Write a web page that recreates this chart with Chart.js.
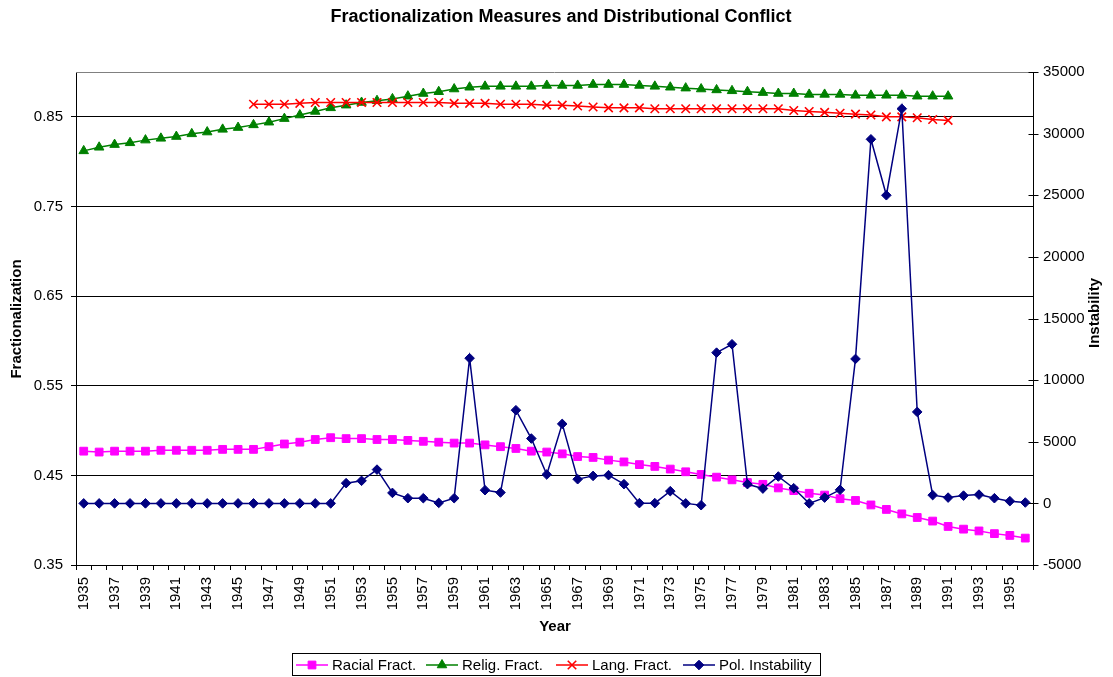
<!DOCTYPE html>
<html>
<head>
<meta charset="utf-8">
<script src="https://cdn.jsdelivr.net/npm/chart.js@4.4.1/dist/chart.umd.min.js"></script>
<style>
  html, body { margin: 0; padding: 0; background: #fff; }
  #c { display: block; }
</style>
</head>
<body>
<canvas id="c" width="1113" height="677"></canvas>
<script>
// ---------------- DATA ----------------
const years = [];
for (let y = 1935; y <= 1996; y++) years.push(String(y));

const racialFract = [
  0.477, 0.476, 0.477, 0.477, 0.477, 0.478, 0.478, 0.478, 0.478, 0.479, // 1935-1944
  0.479, 0.479, 0.482, 0.485, 0.487, 0.490, 0.492, 0.491, 0.491, 0.490, // 1945-1954
  0.490, 0.489, 0.488, 0.487, 0.486, 0.486, 0.484, 0.482, 0.480, 0.477, // 1955-1964
  0.476, 0.474, 0.471, 0.470, 0.467, 0.465, 0.462, 0.460, 0.457, 0.454, // 1965-1974
  0.451, 0.448, 0.445, 0.442, 0.440, 0.436, 0.433, 0.430, 0.428, 0.424, // 1975-1984
  0.422, 0.417, 0.412, 0.407, 0.403, 0.399, 0.393, 0.390, 0.388, 0.385, // 1985-1994
  0.383, 0.380                                                          // 1995-1996
];

const religFract = [
  0.812, 0.816, 0.819, 0.821, 0.824, 0.826, 0.828, 0.831, 0.833, 0.836, // 1935-1944
  0.838, 0.841, 0.844, 0.848, 0.852, 0.856, 0.860, 0.863, 0.866, 0.868, // 1945-1954
  0.870, 0.873, 0.876, 0.878, 0.881, 0.883, 0.884, 0.884, 0.884, 0.884, // 1955-1964
  0.885, 0.885, 0.885, 0.886, 0.886, 0.886, 0.885, 0.884, 0.883, 0.882, // 1965-1974
  0.881, 0.880, 0.879, 0.878, 0.877, 0.876, 0.876, 0.875, 0.875, 0.875, // 1975-1984
  0.874, 0.874, 0.874, 0.874, 0.873, 0.873, 0.873, null, null, null,    // 1985-1994
  null, null                                                            // 1995-1996
];

const langFract = [
  null, null, null, null, null, null, null, null, null, null,           // 1935-1944
  null, 0.864, 0.864, 0.864, 0.865, 0.866, 0.866, 0.866, 0.866, 0.866,  // 1945-1954
  0.866, 0.866, 0.866, 0.866, 0.865, 0.865, 0.865, 0.864, 0.864, 0.864, // 1955-1964
  0.863, 0.863, 0.862, 0.861, 0.860, 0.860, 0.860, 0.859, 0.859, 0.859, // 1965-1974
  0.859, 0.859, 0.859, 0.859, 0.859, 0.859, 0.857, 0.856, 0.855, 0.854, // 1975-1984
  0.853, 0.852, 0.850, 0.850, 0.849, 0.847, 0.846, null, null, null,    // 1985-1994
  null, null                                                            // 1995-1996
];

const polInstability = [
  0, 0, 0, 0, 0, 0, 0, 0, 0, 0,                                         // 1935-1944
  0, 0, 0, 0, 0, 0, 0, 1640, 1830, 2740,                                // 1945-1954
  850, 420, 420, 40, 420, 11780, 1070, 880, 7560, 5260,                 // 1955-1964
  2340, 6450, 1960, 2230, 2290, 1560, 20, 20, 990, 0,                   // 1965-1974
  -150, 12230, 12910, 1560, 1200, 2180, 1230, 0, 470, 1100,             // 1975-1984
  11720, 29540, 25000, 32020, 7420, 670, 470, 630, 710, 420,            // 1985-1994
  180, 70                                                               // 1995-1996
];

const leftTicks = [0.35, 0.45, 0.55, 0.65, 0.75, 0.85];
const rightTicks = [-5000, 0, 5000, 10000, 15000, 20000, 25000, 30000, 35000];

const seriesNames = ['Racial Fract.', 'Relig. Fract.', 'Lang. Fract.', 'Pol. Instability'];
const chartTitle = 'Fractionalization Measures and Distributional Conflict';
const xTitle = 'Year';
const yLeftTitle = 'Fractionalization';
const yRightTitle = 'Instability';

// ---------------- STYLE ----------------
const FONT = '"Liberation Sans", Arial, Helvetica, sans-serif';
const styles = [
  { color: '#FF00FF', point: 'rect',     radius: 5.5, border: 1 },
  { color: '#008000', point: 'triangle', radius: 5.5, border: 1 },
  { color: '#FF0000', point: 'crossRot', radius: 6,   border: 1.6 },
  { color: '#000080', point: 'rectRot',  radius: 4.8, border: 1 }
];

function ds(i, data, axis, order) {
  const s = styles[i];
  return {
    label: seriesNames[i],
    data: data,
    yAxisID: axis,
    order: order,
    borderColor: s.color,
    backgroundColor: s.color,
    borderWidth: 1.5,
    pointStyle: s.point,
    pointRadius: s.radius,
    pointBorderWidth: s.border,
    pointBackgroundColor: s.color,
    pointBorderColor: s.color,
    tension: 0,
    spanGaps: false,
    fill: false
  };
}

function drawMarker(ctx, type, x, y, r, color, bw) {
  ctx.save();
  ctx.fillStyle = color; ctx.strokeStyle = color; ctx.lineWidth = bw;
  ctx.beginPath();
  if (type === 'rect') {
    const h = r * Math.SQRT1_2;
    ctx.rect(x - h, y - h, 2 * h, 2 * h);
    ctx.fill(); ctx.stroke();
  } else if (type === 'triangle') {
    const side = 3 * r / Math.sqrt(3);
    const height = side * Math.sqrt(3) / 2;
    ctx.moveTo(x - side / 2, y + height / 3);
    ctx.lineTo(x + side / 2, y + height / 3);
    ctx.lineTo(x, y - 2 * height / 3);
    ctx.closePath();
    ctx.fill(); ctx.stroke();
  } else if (type === 'crossRot') {
    const o = r * Math.SQRT1_2;
    ctx.moveTo(x - o, y - o); ctx.lineTo(x + o, y + o);
    ctx.moveTo(x - o, y + o); ctx.lineTo(x + o, y - o);
    ctx.stroke();
  } else if (type === 'rectRot') {
    ctx.moveTo(x - r, y); ctx.lineTo(x, y - r); ctx.lineTo(x + r, y); ctx.lineTo(x, y + r);
    ctx.closePath();
    ctx.fill(); ctx.stroke();
  }
  ctx.restore();
}

const decorPlugin = {
  id: 'decor',
  beforeDatasetsDraw(chart) {
    const { ctx, chartArea: a } = chart;
    ctx.save();
    ctx.strokeStyle = '#808080';
    ctx.lineWidth = 1;
    ctx.beginPath();
    ctx.moveTo(a.left, Math.round(a.top) + 0.5);
    ctx.lineTo(a.right, Math.round(a.top) + 0.5);
    ctx.stroke();
    ctx.restore();
  },
  afterDraw(chart) {
    const { ctx, chartArea: a } = chart;
    const y2 = chart.scales.y2;
    ctx.save();
    // right axis cross ticks
    ctx.strokeStyle = '#000';
    ctx.lineWidth = 1;
    const rx = Math.round(a.right) + 0.5;
    rightTicks.forEach(v => {
      const py = Math.round(y2.getPixelForValue(v)) + 0.5;
      ctx.beginPath();
      ctx.moveTo(rx - 5, py); ctx.lineTo(rx + 5, py);
      ctx.stroke();
    });

    ctx.fillStyle = '#000';
    // main title
    ctx.font = 'bold 18px ' + FONT;
    ctx.textAlign = 'center';
    ctx.textBaseline = 'middle';
    ctx.fillText(chartTitle, 561, 17);

    // x title
    ctx.font = 'bold 15px ' + FONT;
    ctx.fillText(xTitle, 555, 627);

    // left y title
    ctx.save();
    ctx.translate(17, 319);
    ctx.rotate(-Math.PI / 2);
    ctx.fillText(yLeftTitle, 0, 0);
    ctx.restore();

    // right y title
    ctx.save();
    ctx.translate(1095, 313);
    ctx.rotate(-Math.PI / 2);
    ctx.fillText(yRightTitle, 0, 0);
    ctx.restore();

    // legend
    ctx.strokeStyle = '#000';
    ctx.lineWidth = 1;
    ctx.strokeRect(292.5, 653.5, 528, 22);
    const starts = [296, 426, 556, 683];
    const ly = 665;
    ctx.font = '15px ' + FONT;
    ctx.textAlign = 'left';
    ctx.textBaseline = 'middle';
    seriesNames.forEach((name, i) => {
      const s = styles[i];
      const x0 = starts[i];
      ctx.strokeStyle = s.color;
      ctx.lineWidth = 1.5;
      ctx.beginPath();
      ctx.moveTo(x0, ly); ctx.lineTo(x0 + 32, ly);
      ctx.stroke();
      drawMarker(ctx, s.point, x0 + 16, ly, s.radius, s.color, s.border);
      ctx.fillStyle = '#000';
      ctx.fillText(name, x0 + 36, ly + 1);
    });
    ctx.restore();
  }
};

const tickFont = { family: FONT, size: 15 };

new Chart(document.getElementById('c'), {
  type: 'line',
  data: {
    labels: years,
    datasets: [
      ds(0, racialFract, 'y', 4),
      ds(1, religFract, 'y', 3),
      ds(2, langFract, 'y', 2),
      ds(3, polInstability, 'y2', 1)
    ]
  },
  options: {
    responsive: false,
    animation: false,
    devicePixelRatio: 1,
    layout: { padding: { top: 72, left: 0, right: 0, bottom: 0 } },
    plugins: {
      legend: { display: false },
      title: { display: false },
      tooltip: { enabled: false }
    },
    scales: {
      x: {
        type: 'category',
        offset: true,
        grid: { offset: true, drawOnChartArea: false, drawTicks: true, tickLength: 5, color: '#000', lineWidth: 1 },
        border: { display: true, color: '#000', width: 1 },
        ticks: {
          autoSkip: false, maxRotation: 90, minRotation: 90, padding: 7, color: '#000', font: tickFont,
          callback: (v, i) => (i % 2 === 0 ? years[i] : '')
        },
        afterFit: s => { s.height = 112; }
      },
      y: {
        position: 'left',
        min: 0.35, max: 0.9,
        afterBuildTicks: s => { s.ticks = leftTicks.map(v => ({ value: v })); },
        grid: { color: '#000', lineWidth: 1, tickLength: 5, drawTicks: true },
        border: { display: true, color: '#000', width: 1 },
        ticks: { padding: 8, color: '#000', font: tickFont, callback: v => Number(v).toFixed(2) },
        afterFit: s => { s.width = 76; }
      },
      y2: {
        position: 'right',
        min: -5000, max: 35000,
        afterBuildTicks: s => { s.ticks = rightTicks.map(v => ({ value: v })); },
        grid: { display: false, drawOnChartArea: false, tickLength: 5 },
        border: { display: true, color: '#000', width: 1 },
        ticks: { padding: 5, color: '#000', font: tickFont, callback: v => String(v) },
        afterFit: s => { s.width = 80; }
      }
    }
  },
  plugins: [decorPlugin]
});
</script>
</body>
</html>
